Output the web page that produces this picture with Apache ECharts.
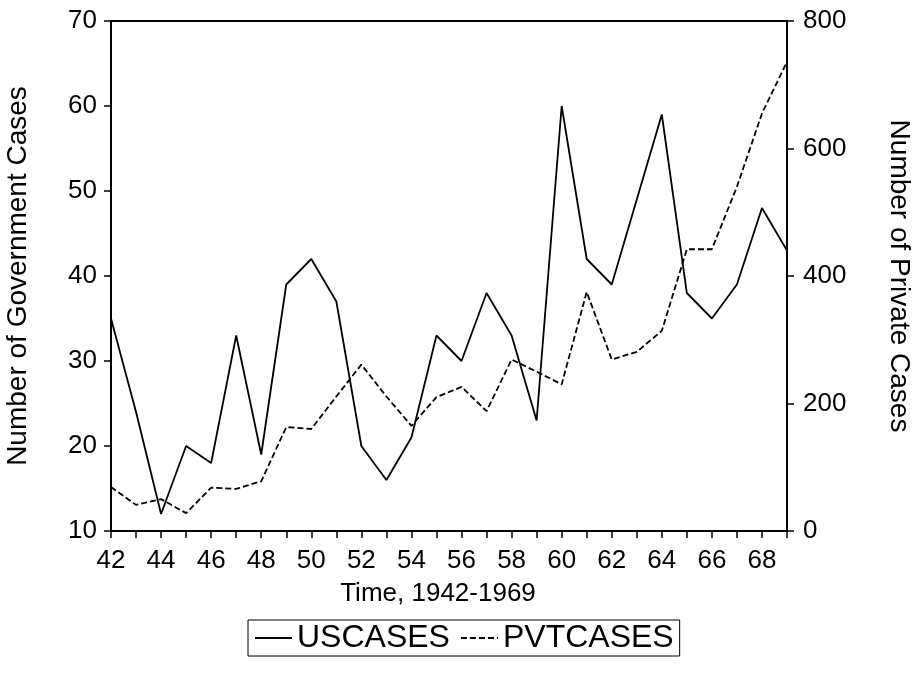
<!DOCTYPE html>
<html>
<head>
<meta charset="utf-8">
<script src="https://cdn.jsdelivr.net/npm/echarts@6/dist/echarts.min.js"></script>
<style>html,body{margin:0;padding:0;background:#fff}#c{width:915px;height:676px}</style>
</head>
<body>
<div id="c"></div>
<script>
var years = ['42','43','44','45','46','47','48','49','50','51','52','53','54','55','56','57','58','59','60','61','62','63','64','65','66','67','68','69'];
var uscases = [35,24,12,20,18,33,19,39,42,37,20,16,21,33,30,38,33,23,60,42,39,49,59,38,35,39,48,43];
var pvtcases = [69,41,50,28,68,66,78,163,160,211,261,211,165,210,226,188,269,250,230,375,269,281,314,442,442,540,655,736];
var leftTicks = [10,20,30,40,50,60,70];
var rightTicks = [0,200,400,600,800];

var FONT = 'Liberation Sans, Arial, sans-serif';
var chart = echarts.init(document.getElementById('c'), null, {renderer:'canvas'});
chart.setOption({
  backgroundColor:'#fff',
  animation:false,
  textStyle:{fontFamily:FONT, color:'#000'},
  grid:{left:111, right:128, top:21, bottom:145, containLabel:false, outerBoundsMode:'none',
        show:true, borderColor:'#000', borderWidth:2, backgroundColor:'transparent'},
  legend:{
    left:248, top:620,
    data:['USCASES','PVTCASES'],
    borderColor:'#000', borderWidth:1, borderRadius:0,
    padding:[2,6,2,6],
    itemWidth:37, itemHeight:14, itemGap:10,
    itemStyle:{color:'rgba(0,0,0,0)', borderWidth:0},
    textStyle:{fontFamily:FONT, fontSize:32, color:'#000'}
  },
  xAxis:{
    type:'category', data:years, boundaryGap:false,
    name:'Time, 1942-1969', nameLocation:'middle', nameGap:50,
    nameTextStyle:{fontFamily:FONT, fontSize:26, color:'#000', padding:[0,22,0,0]},
    axisLine:{lineStyle:{color:'#000', width:2}},
    axisTick:{show:true, interval:0, length:7, inside:false, lineStyle:{color:'#000', width:1.5}},
    axisLabel:{interval:1, fontFamily:FONT, fontSize:26, color:'#000', margin:17},
    splitLine:{show:false}
  },
  yAxis:[{
    type:'value', min:leftTicks[0], max:leftTicks[leftTicks.length-1], interval:10,
    name:'Number of Government Cases', nameLocation:'middle', nameGap:79,
    nameTextStyle:{fontFamily:FONT, fontSize:28, color:'#000'},
    axisLine:{show:true, lineStyle:{color:'#000', width:2}},
    axisTick:{show:true, length:7, lineStyle:{color:'#000', width:1.5}},
    axisLabel:{fontFamily:FONT, fontSize:26, color:'#000', margin:14},
    splitLine:{show:false}
  },{
    type:'value', min:rightTicks[0], max:rightTicks[rightTicks.length-1], interval:200,
    position:'right',
    name:'Number of Private Cases', nameLocation:'middle', nameGap:98, nameRotate:-90,
    nameTextStyle:{fontFamily:FONT, fontSize:28, color:'#000'},
    axisLine:{show:true, lineStyle:{color:'#000', width:2}},
    axisTick:{show:true, length:7, lineStyle:{color:'#000', width:1.5}},
    axisLabel:{fontFamily:FONT, fontSize:26, color:'#000', margin:16},
    splitLine:{show:false}
  }],
  series:[{
    name:'USCASES', type:'line', yAxisIndex:0, data:uscases,
    symbol:'none', showSymbol:false, color:'#000',
    lineStyle:{color:'#000', width:1.8, type:'solid'}
  },{
    name:'PVTCASES', type:'line', yAxisIndex:1, data:pvtcases,
    symbol:'none', showSymbol:false, color:'#000',
    lineStyle:{color:'#000', width:1.8, type:[6,3]}
  }]
});
</script>
</body>
</html>
